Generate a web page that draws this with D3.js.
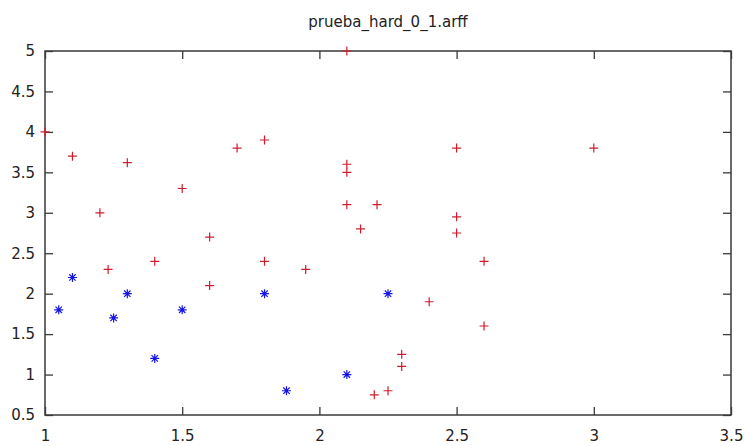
<!DOCTYPE html>
<html>
<head>
<meta charset="utf-8">
<script src="https://cdn.jsdelivr.net/npm/d3@7"></script>
<style>
    body { margin: 0; background: #fff; }
    svg { display: block; }
</style>
</head>
<body>
<div id="chart"></div>
<script>
const title = "prueba_hard_0_1.arff"

// class 1 (red +)
const redX = [1.0, 1.1, 1.3, 1.2, 1.5, 1.7, 1.8, 2.1, 2.1, 2.1, 2.1, 2.21, 2.15,
    2.5, 3.0, 2.5, 2.5, 2.6, 2.4, 2.6, 2.3, 2.3, 2.25, 2.2,
    1.6, 1.23, 1.4, 1.6, 1.8, 1.95]
const redY = [4.0, 3.7, 3.62, 3.0, 3.3, 3.8, 3.9, 5.0, 3.6, 3.5, 3.1, 3.1, 2.8,
    3.8, 3.8, 2.95, 2.75, 2.4, 1.9, 1.6, 1.25, 1.1, 0.8, 0.75,
    2.7, 2.3, 2.4, 2.1, 2.4, 2.3]

// class 2 (blue *)
const blueX = [1.05, 1.1, 1.25, 1.3, 1.4, 1.5, 1.8, 1.88, 2.1, 2.25]
const blueY = [1.8, 2.2, 1.7, 2.0, 1.2, 1.8, 2.0, 0.8, 1.0, 2.0]

const xTicks = [1, 1.5, 2, 2.5, 3, 3.5]
const yTicks = [0.5, 1, 1.5, 2, 2.5, 3, 3.5, 4, 4.5, 5]

const config = {
    width: 747,
    height: 446,
    margin: { top: 51, right: 16, bottom: 31, left: 45 }
}
const margin = config.margin
const width = config.width - margin.left - margin.right
const height = config.height - margin.top - margin.bottom

const font = "'DejaVu Sans', sans-serif"
const frameColor = "#3a3a3a"
const textColor = "#222"

const svg = d3.select("#chart")
    .append("svg")
    .attr("width", config.width)
    .attr("height", config.height)

const g = svg.append("g")
    .attr("transform", `translate(${margin.left}, ${margin.top})`)

const x = d3.scaleLinear().domain([1, 3.5]).range([0, width])
const y = d3.scaleLinear().domain([0.5, 5]).range([height, 0])

/* TITLE */
svg.append("text")
    .attr("x", margin.left + width / 2)
    .attr("y", 27)
    .attr("text-anchor", "middle")
    .style("font-family", font)
    .style("font-size", "15px")
    .style("fill", textColor)
    .text(title)

/* AXES - gnuplot style, inward ticks mirrored */
function styleAxis(sel, showText) {
    sel.select(".domain").remove()
    sel.selectAll(".tick line")
        .attr("stroke", frameColor)
        .attr("stroke-width", 1.3)
    sel.selectAll(".tick text")
        .style("font-family", font)
        .style("font-size", "15px")
        .style("fill", textColor)
    if (!showText) sel.selectAll(".tick text").remove()
}

g.append("g")
    .attr("transform", `translate(0, ${height})`)
    .call(d3.axisBottom(x).tickValues(xTicks).tickFormat(d3.format("~g"))
        .tickSizeInner(-8).tickSizeOuter(0).tickPadding(15))
    .call(sel => styleAxis(sel, true))

g.append("g")
    .call(d3.axisTop(x).tickValues(xTicks)
        .tickSizeInner(-8).tickSizeOuter(0))
    .call(sel => styleAxis(sel, false))

g.append("g")
    .call(d3.axisLeft(y).tickValues(yTicks).tickFormat(d3.format("~g"))
        .tickSizeInner(-8).tickSizeOuter(0).tickPadding(10))
    .call(sel => styleAxis(sel, true))

g.append("g")
    .attr("transform", `translate(${width}, 0)`)
    .call(d3.axisRight(y).tickValues(yTicks)
        .tickSizeInner(-8).tickSizeOuter(0))
    .call(sel => styleAxis(sel, false))

/* FRAME */
g.append("rect")
    .attr("x", 0)
    .attr("y", 0)
    .attr("width", width)
    .attr("height", height)
    .attr("fill", "none")
    .attr("stroke", frameColor)
    .attr("stroke-width", 1.5)

/* POINTS */
const plusPath = "M-4.5,0H4.5M0,-4.5V4.5"
const starPath = "M-4.5,0H4.5M0,-4.5V4.5M-3.2,-3.2L3.2,3.2M-3.2,3.2L3.2,-3.2"

g.append("g")
    .selectAll("path")
    .data(d3.range(redX.length))
    .join("path")
    .attr("transform", i => `translate(${x(redX[i])}, ${y(redY[i])})`)
    .attr("d", plusPath)
    .attr("fill", "none")
    .attr("stroke", "#d01c2c")
    .attr("stroke-width", 1.2)

g.append("g")
    .selectAll("path")
    .data(d3.range(blueX.length))
    .join("path")
    .attr("transform", i => `translate(${x(blueX[i])}, ${y(blueY[i])})`)
    .attr("d", starPath)
    .attr("fill", "none")
    .attr("stroke", "#1414e6")
    .attr("stroke-width", 1.2)
</script>
</body>
</html>
